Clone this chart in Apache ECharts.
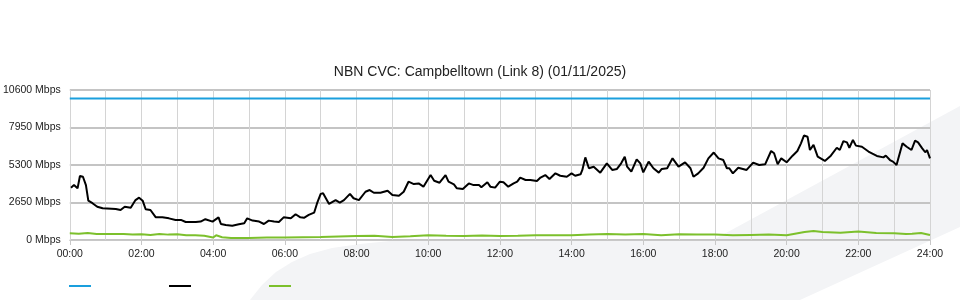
<!DOCTYPE html>
<html><head><meta charset="utf-8">
<script src="https://cdn.jsdelivr.net/npm/echarts@6/dist/echarts.min.js"></script>
<style>html,body{margin:0;padding:0;background:#fff}#c{width:960px;height:300px}</style>
</head><body><div id="c"></div><script>
const titleText = 'NBN CVC: Campbelltown (Link 8) (01/11/2025)';
const yTicks = [0, 2650, 5300, 7950, 10600];
const capacityTimes = [0, 1440];
const capacityValues = [10000, 10000];
const downTimes = [2,7,13,17,22,27,31,38,46,55,77,85,92,102,110,116,122,127,135,144,155,166,177,186,194,211,219,227,239,249,253,261,272,283,292,297,306,317,325,333,342,350,358,370,378,386,392,400,409,414,420,424,434,445,452,459,469,475,484,495,502,509,520,526,532,540,551,559,567,576,584,592,604,610,619,629,634,643,648,658,668,676,685,689,699,704,712,720,726,734,743,749,754,763,771,782,788,796,803,813,821,832,840,846,855,858,863,869,877,888,899,908,916,923,929,933,940,949,955,960,969,977,986,991,1000,1009,1019,1030,1039,1044,1052,1061,1069,1078,1086,1094,1100,1104,1110,1119,1133,1144,1154,1164,1174,1179,1185,1191,1200,1210,1218,1224,1229,1235,1239,1245,1252,1264,1274,1284,1289,1295,1301,1305,1311,1316,1326,1337,1351,1362,1366,1373,1378,1384,1394,1401,1409,1415,1420,1427,1432,1435,1440];
const downValues = [3700,3880,3650,4520,4470,3880,2780,2600,2350,2240,2190,2120,2350,2280,2820,2990,2780,2170,2120,1600,1600,1530,1420,1420,1270,1270,1300,1470,1300,1600,1130,1060,1010,1110,1180,1530,1370,1300,1130,1370,1300,1270,1600,1530,1820,1600,1570,1770,1930,2600,3260,3300,2550,2820,2640,2820,3260,2950,2820,3410,3530,3340,3340,3410,3480,3180,3130,3410,4120,3950,4000,3770,4590,4190,4050,4590,4120,3930,3650,3610,4000,3880,3880,3730,4080,3770,3700,4120,4080,3770,4000,4120,4410,4240,4240,4170,4410,4590,4310,4710,4540,4470,4710,4540,4640,4950,5840,5070,5180,4760,5420,4950,5020,5420,5890,5180,4830,5700,5420,4780,5540,5070,4760,5020,5070,5770,5180,5490,5070,4470,4710,5110,5770,6180,5770,5650,5070,5070,4710,5110,4950,5470,5300,5350,6290,6130,5350,5770,5490,5960,6290,6830,7380,7300,6360,6720,5890,5590,5960,6520,6360,6990,6900,6520,7070,6670,6590,6250,5940,5840,5960,5650,5540,5300,6830,6590,6360,7020,6900,6480,6200,6360,5770];
const upTimes = [0,15,30,45,60,90,105,120,135,150,165,180,195,210,225,240,245,255,270,300,330,345,360,390,420,450,480,510,540,570,600,630,660,690,720,750,780,810,840,870,900,930,960,990,1020,1050,1080,1110,1140,1170,1200,1230,1245,1260,1290,1320,1350,1380,1400,1410,1425,1440];
const upValues = [470,450,500,430,430,420,380,400,350,430,380,400,330,330,300,180,330,200,140,150,170,180,170,200,210,250,280,300,220,260,330,300,280,320,280,300,330,340,330,380,420,380,420,330,400,380,380,330,360,380,330,560,640,560,520,600,500,480,420,450,500,360];
const seriesNames = ['Capacity', 'Download', 'Upload'];
const seriesColors = ['#1a9fdd', '#000000', '#7cc02c'];

const pair = (t, v) => t.map((x, i) => [x, v[i]]);
const pad = n => (n < 10 ? '0' : '') + n;
const chart = echarts.init(document.getElementById('c'), null, {renderer: 'canvas'});
const font = '"Liberation Sans", Arial, Helvetica, sans-serif';
chart.setOption({
  animation: false,
  backgroundColor: '#ffffff',
  textStyle: {fontFamily: font},
  title: {text: titleText, left: 'center', top: 60,
    textStyle: {fontFamily: font, fontSize: 14, fontWeight: 'normal', color: '#222'}},
  graphic: [{type: 'polygon', z: -10, silent: true,
    shape: {points: [[250,300],[262,285],[276,272],[292,262],[310,254],[332,248],[360,244],[390,241],[420,240],[713,240],[960,106],[960,227],[800,300]]},
    style: {fill: '#f3f4f6'}}],
  legend: {left: 64, top: 280, icon: 'rect', itemWidth: 22, itemHeight: 2, itemGap: 78,
    formatter: () => '', data: seriesNames, selectedMode: false},
  grid: {left: 69, right: 30, top: 90, bottom: 60, containLabel: false},
  xAxis: {type: 'value', min: 0, max: 1440, interval: 120,
    axisLine: {show: true, lineStyle: {color: '#c8c8c8', width: 1}},
    axisTick: {show: true, length: 5, lineStyle: {color: '#c8c8c8'}},
    axisLabel: {fontSize: 10.5, color: '#222', margin: 9, formatter: v => pad(v / 60) + ':00'},
    splitLine: {show: true, lineStyle: {color: '#d4d4d4', width: 1}},
    minorTick: {show: false, splitNumber: 2},
    minorSplitLine: {show: true, lineStyle: {color: '#d4d4d4', width: 1}}},
  yAxis: {type: 'value', min: yTicks[0], max: yTicks[yTicks.length - 1], interval: yTicks[1] - yTicks[0],
    axisLine: {show: false}, axisTick: {show: false},
    axisLabel: {fontSize: 10.5, color: '#222', margin: 9, padding: [0, 0, 3, 0], formatter: v => v + ' Mbps'},
    splitLine: {show: true, lineStyle: {color: '#c4c4c4', width: 2}}},
  series: [
    {name: seriesNames[0], type: 'line', data: pair(capacityTimes, capacityValues), showSymbol: false, symbol: 'none',
      lineStyle: {color: seriesColors[0], width: 2}, itemStyle: {color: seriesColors[0]}},
    {name: seriesNames[1], type: 'line', data: pair(downTimes, downValues), showSymbol: false, symbol: 'none',
      lineStyle: {color: seriesColors[1], width: 2}, itemStyle: {color: seriesColors[1]}},
    {name: seriesNames[2], type: 'line', data: pair(upTimes, upValues), showSymbol: false, symbol: 'none',
      lineStyle: {color: seriesColors[2], width: 2}, itemStyle: {color: seriesColors[2]}}
  ]
});
</script></body></html>
